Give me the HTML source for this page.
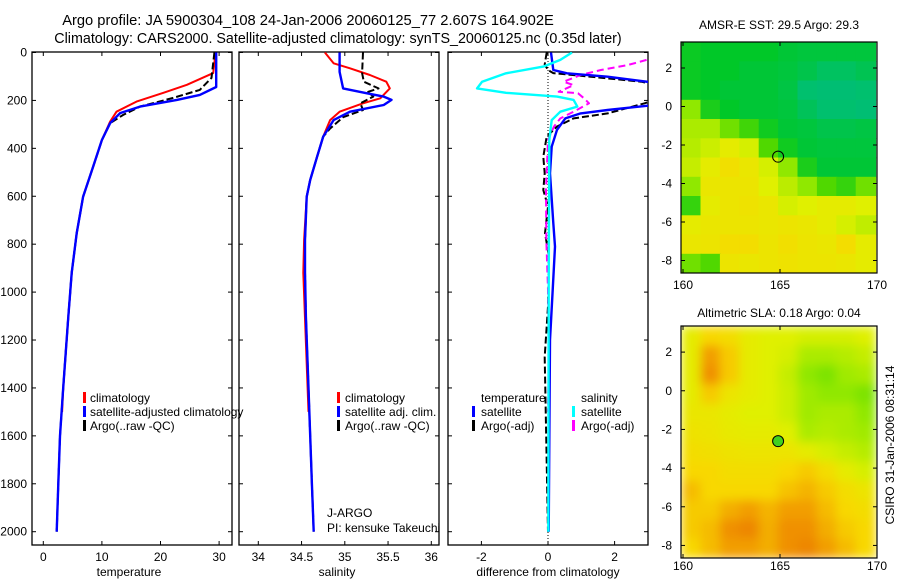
<!DOCTYPE html>
<html><head><meta charset="utf-8"><style>
body{margin:0;background:#fff;}
svg{display:block;font-family:"Liberation Sans",sans-serif;}
text{fill:#000;}
</style></head><body>
<svg id="fig" width="900" height="580" viewBox="0 0 900 580">
<defs>
<clipPath id="c1"><rect x="32" y="52" width="200" height="493"/></clipPath>
<clipPath id="c2"><rect x="239" y="52" width="200" height="493"/></clipPath>
<clipPath id="c3"><rect x="448" y="52" width="200" height="493"/></clipPath>
<clipPath id="cm1"><rect x="681" y="42" width="196" height="231"/></clipPath>
<clipPath id="cm2"><rect x="681" y="326" width="196" height="232"/></clipPath>
<filter id="blur" x="0" y="0" width="1" height="1"><feGaussianBlur stdDeviation="5"/></filter>
</defs>
<text x="308" y="25" font-size="14.7" text-anchor="middle">Argo profile: JA 5900304_108 24-Jan-2006 20060125_77 2.607S 164.902E</text>
<text x="338" y="43" font-size="14.3" text-anchor="middle">Climatology: CARS2000. Satellite-adjusted climatology: synTS_20060125.nc (0.35d later)</text>
<g id="plots"></g>
</svg>
<script>
// ---------- profile data (depth dbar, value) ----------
const tDepth=[0,144,177,198,226,253,295,365,477,602,754,920,1103,1400,1600,1800,2000];
const tSat=[29.5,29.5,26.7,22.8,16.5,13.1,11.4,10.0,8.5,6.8,5.7,4.85,4.27,3.4,2.85,2.56,2.29];
const tClimDepth=[0,86,135,168,205,247,289,365,477,602,754,920,1103,1400,1500];
const tClim=[29.4,29.0,24.5,20.5,15.9,12.5,11.4,10.0,8.5,6.8,5.7,4.85,4.27,3.4,3.2];
const tArgoDepth=[0,106,156,190,226,261,295,365,477,602,754,920,1103,1400,1600,1800,2000];
const tArgo=[29.2,28.7,26.7,22.1,16.5,13.6,11.4,10.0,8.5,6.8,5.7,4.85,4.27,3.4,2.85,2.56,2.29];

const sClimDepth=[0,45,66,94,122,150,191,212,247,282,351,435,532,602,782,920,1400,1500];
const sClim=[34.77,34.87,35.06,35.29,35.48,35.52,35.41,35.21,34.94,34.83,34.75,34.68,34.60,34.56,34.53,34.52,34.57,34.58];
const sSatDepth=[0,81,150,170,184,198,219,247,282,351,435,532,602,782,920,1103,1400,1600,1800,2000];
const sSat=[34.94,34.94,34.98,35.25,35.45,35.54,35.45,35.06,34.87,34.75,34.68,34.60,34.56,34.54,34.54,34.55,34.58,34.60,34.62,34.64];
const sArgoDepth=[0,86,122,150,164,184,212,240,270,317,351,435,532,602,782,920,1103,1400,1600,1800,2000];
const sArgo=[35.21,35.20,35.22,35.39,35.27,35.33,35.18,35.21,34.98,34.83,34.75,34.68,34.60,34.56,34.54,34.54,34.55,34.58,34.60,34.62,34.64];

const dTSatDepth=[0,73,87,101,126,160,219,240,254,275,323,393,504,712,810,991,1200,2000];
const dTSat=[0.09,0.16,0.57,1.79,3.2,4.5,3.2,1.79,0.98,0.52,0.27,0.11,0.06,0.16,0.21,0.14,0.06,0.02];
const dTArgoDepth=[0,50,73,86,101,122,160,212,254,275,309,351,435,504,574,643,754,851,1060,1270,2000];
const dTArgo=[-0.04,-0.1,0,0.16,1.28,2.8,4.0,2.9,1.79,0.77,0.27,-0.04,-0.14,-0.1,-0.14,0,-0.09,0.03,0,-0.1,0];
const dSSatDepth=[0,31,59,87,122,150,168,184,198,226,247,282,365,1000,2000];
const dSSat=[0.72,0.37,-0.14,-1.26,-1.98,-2.13,-1.26,0.27,0.77,0.88,0.37,0.11,0.04,0.02,0.01];
const dSArgoDepth=[31,52,73,94,122,136,164,170,191,212,247,275,309,365,574,782,990,1240,1500];
const dSArgo=[2.96,2.4,1.59,0.98,0.47,0.77,0.32,0.9,1.08,1.23,0.77,0.37,0.18,0,-0.06,-0.05,0,0.03,0];

// ---------- map data (normalized colour index, 1-deg cells, rows from 3.35N) ----------
const mapLon=[160,161,162,163,164,165,166,167,168,169];
const mapLatTop=[3.35,2.35,1.35,0.35,-0.65,-1.65,-2.65,-3.65,-4.65,-5.65,-6.65,-7.65];
const sstGrid=[
[0.32,0.3,0.3,0.3,0.3,0.28,0.27,0.27,0.27,0.27],
[0.32,0.3,0.3,0.28,0.28,0.27,0.25,0.22,0.22,0.24],
[0.32,0.3,0.28,0.28,0.28,0.26,0.2,0.18,0.18,0.2],
[0.55,0.35,0.3,0.28,0.28,0.27,0.23,0.2,0.2,0.18],
[0.6,0.6,0.5,0.42,0.33,0.28,0.27,0.25,0.25,0.26],
[0.62,0.66,0.72,0.68,0.45,0.33,0.28,0.27,0.27,0.27],
[0.65,0.72,0.77,0.74,0.68,0.55,0.35,0.28,0.28,0.28],
[0.55,0.74,0.75,0.75,0.7,0.63,0.55,0.45,0.4,0.5],
[0.4,0.72,0.75,0.76,0.74,0.68,0.7,0.72,0.72,0.7],
[0.72,0.74,0.75,0.75,0.74,0.75,0.74,0.72,0.68,0.64],
[0.74,0.75,0.78,0.78,0.75,0.77,0.75,0.74,0.78,0.72],
[0.5,0.45,0.75,0.74,0.75,0.76,0.75,0.75,0.74,0.72]];
const slaGrid=[
[0.72,0.8,0.78,0.72,0.7,0.7,0.68,0.68,0.68,0.7],
[0.72,0.88,0.82,0.72,0.7,0.68,0.6,0.6,0.62,0.65],
[0.72,0.9,0.82,0.72,0.7,0.65,0.55,0.52,0.58,0.6],
[0.72,0.82,0.75,0.72,0.7,0.66,0.58,0.55,0.55,0.52],
[0.74,0.74,0.72,0.7,0.7,0.66,0.58,0.6,0.6,0.55],
[0.76,0.75,0.73,0.72,0.72,0.7,0.6,0.62,0.6,0.58],
[0.78,0.77,0.76,0.75,0.75,0.75,0.72,0.68,0.65,0.62],
[0.8,0.8,0.78,0.78,0.78,0.8,0.82,0.78,0.72,0.68],
[0.84,0.8,0.8,0.8,0.8,0.83,0.85,0.82,0.78,0.75],
[0.82,0.82,0.86,0.88,0.85,0.88,0.88,0.84,0.8,0.78],
[0.82,0.84,0.9,0.92,0.86,0.9,0.9,0.86,0.82,0.8],
[0.8,0.84,0.88,0.88,0.86,0.9,0.92,0.88,0.84,0.8]];
const floatLon=164.902, floatLat=-2.607;

const NS='http://www.w3.org/2000/svg';
const root=document.getElementById('plots');
function mk(tag,attrs,parent){const e=document.createElementNS(NS,tag);for(const k in attrs)e.setAttribute(k,attrs[k]);(parent||root).appendChild(e);return e;}

const yD=d=>52.5+d*0.2396;
const xT=v=>43.3+v*5.86;
const xS=v=>258.3+(v-34)*86.5;
const xDf=v=>548+v*33.3;

function panel(x0,name){
  const r=mk('rect',{x:x0,y:52,width:200,height:493,fill:'none',stroke:'#000','stroke-width':1.3});
  
  
  for(let d=0;d<=2000;d+=200){
    mk('line',{x1:x0,x2:x0+4,y1:yD(d),y2:yD(d),stroke:'#000'});
    mk('line',{x1:x0+200,x2:x0+196,y1:yD(d),y2:yD(d),stroke:'#000'});
  }
}
function xticks(vals,fx,labels){
  vals.forEach((v,i)=>{const x=fx(v);
    mk('line',{x1:x,x2:x,y1:545,y2:541,stroke:'#000'});
    mk('line',{x1:x,x2:x,y1:52,y2:56,stroke:'#000'});
    const t=mk('text',{x:x,y:561,'font-size':12,'text-anchor':'middle'});t.textContent=labels[i];
    
    
  });
}
function line(ds,vs,fx,color,clip,dash,name,w){
  const p=ds.map((d,i)=>(i?'L':'M')+fx(vs[i]).toFixed(1)+','+yD(d).toFixed(1)).join('');
  const a={d:p,fill:'none',stroke:color,'stroke-width':w||2,'clip-path':'url(#'+clip+')','stroke-linejoin':'round'};
  if(dash)a['stroke-dasharray']=dash;
  const e=mk('path',a);
  
  
}
function txt(x,y,s,name,size,anchor){const t=mk('text',{x:x,y:y,'font-size':size||12,'text-anchor':anchor||'start'});t.textContent=s;
  
  return t;}
function legMark(x,y,c){mk('rect',{x:x,y:y-10,width:3,height:11,fill:c});}

for(let d=0;d<=2000;d+=200){txt(27,yD(d)+4,String(d),'y-tick-label',12,'end');}

panel(32,'temperature-panel');
xticks([0,10,20,30],xT,['0','10','20','30']);
line(tClimDepth,tClim,xT,'#f00','c1',null,'temperature-climatology-line');
line(tArgoDepth,tArgo,xT,'#000','c1','7,3','temperature-argo-line');
line(tDepth,tSat,xT,'#00f','c1',null,'temperature-satellite-line',2.4);
txt(129,576,'temperature','x-axis-title-temperature',12,'middle');
legMark(83,402,'#f00');txt(90,402,'climatology','legend-climatology');
legMark(83,416,'#00f');txt(90,416,'satellite-adjusted climatology','legend-satellite-adjusted');
legMark(83,430,'#000');txt(90,430,'Argo(..raw -QC)','legend-argo');

panel(239,'salinity-panel');
xticks([34,34.5,35,35.5,36],xS,['34','34.5','35','35.5','36']);
line(sClimDepth,sClim,xS,'#f00','c2',null,'salinity-climatology-line');
line(sArgoDepth,sArgo,xS,'#000','c2','7,3','salinity-argo-line');
line(sSatDepth,sSat,xS,'#00f','c2',null,'salinity-satellite-line',2.4);
txt(337,576,'salinity','x-axis-title-salinity',12,'middle');
legMark(337,402,'#f00');txt(345,402,'climatology','legend-sal-climatology');
legMark(337,416,'#00f');txt(345,416,'satellite adj. clim.','legend-sal-satellite');
legMark(337,430,'#000');txt(345,430,'Argo(..raw -QC)','legend-sal-argo');
txt(327,517,'J-ARGO','agency-label');
txt(327,532,'PI: kensuke Takeuchi','pi-label');

panel(448,'difference-panel');
xticks([-2,0,2],xDf,['-2','0','2']);
mk('line',{x1:548,x2:548,y1:52,y2:545,stroke:'#000','stroke-dasharray':'1,2'});
line(dTArgoDepth,dTArgo,xDf,'#000','c3','7,3','diff-temp-argo-line');
line(dSArgoDepth,dSArgo,xDf,'#f0f','c3','7,4','diff-sal-argo-line');
line(dTSatDepth,dTSat,xDf,'#00f','c3',null,'diff-temp-satellite-line',2.4);
line(dSSatDepth,dSSat,xDf,'#0ff','c3',null,'diff-sal-satellite-line',2.4);
txt(548,576,'difference from climatology','x-axis-title-difference',12,'middle');
txt(481,402,'temperature','legend-temperature-header');
txt(581,402,'salinity','legend-salinity-header');
legMark(472,416,'#00f');txt(481,416,'satellite','legend-temp-satellite');
legMark(472,430,'#000');txt(481,430,'Argo(-adj)','legend-temp-argo');
legMark(572,416,'#0ff');txt(581,416,'satellite','legend-sal-sat');
legMark(572,430,'#f0f');txt(581,430,'Argo(-adj)','legend-sal-argo-diff');

const stops=[[0,[0,176,160]],[0.2,[0,192,110]],[0.3,[0,200,40]],[0.45,[80,216,0]],[0.55,[144,232,0]],[0.7,[224,240,0]],[0.8,[248,216,0]],[0.9,[240,144,0]],[1,[224,96,0]]];
function cmap(v){for(let i=1;i<stops.length;i++){if(v<=stops[i][0]){const a=stops[i-1],b=stops[i],t=(v-a[0])/(b[0]-a[0]);
  return 'rgb('+a[1].map((c,k)=>Math.round(c+(b[1][k]-c)*t)).join(',')+')';}}return 'rgb(224,96,0)';}
function mapPanel(top,bottom,grid,clip,name,blur,title,labY,titleY){
  const xL=lon=>683+(lon-160)*19.4;
  const lat2=(bottom-top)/(3.35+8.65);
  const yL=lat=>top+(3.35-lat)*lat2;
  const g=mk('g',{'clip-path':'url(#'+clip+')'});
  const gi=mk('g',blur?{filter:'url(#blur)'}:{},g);
  grid.forEach((row,r)=>row.forEach((v,c)=>{
    const x=xL(mapLon[c]-0.1),y=yL(mapLatTop[r]);
    const cell=mk('rect',{x:x.toFixed(1),y:y.toFixed(1),width:20.5,height:(lat2+0.6).toFixed(1),fill:cmap(v)},gi);
    
    
  }));
  const fr=mk('rect',{x:681,y:top,width:196,height:bottom-top,fill:'none',stroke:'#000','stroke-width':1.2});
  
  
  [2,0,-2,-4,-6,-8].forEach(l=>{const y=yL(l);
    mk('line',{x1:681,x2:685,y1:y,y2:y,stroke:'#000'});mk('line',{x1:877,x2:873,y1:y,y2:y,stroke:'#000'});
    txt(672,y+4,String(l),'map-y-tick-label',12,'end');});
  [160,165,170].forEach(l=>{const x=xL(l);
    mk('line',{x1:x,x2:x,y1:bottom,y2:bottom-4,stroke:'#000'});mk('line',{x1:x,x2:x,y1:top,y2:top+4,stroke:'#000'});
    txt(x,labY,String(l),'map-x-tick-label',12,'middle');});
  txt(779,titleY,title,'map-title',12,'middle');
  const c=mk('circle',{cx:xL(floatLon),cy:yL(floatLat),r:5.5,fill:blur?'#40d020':'none',stroke:'#000','stroke-width':1});
  
  
}
mapPanel(42,273,sstGrid,'cm1','sst-map',false,'AMSR-E SST: 29.5 Argo: 29.3',289,29);
mapPanel(326,558,slaGrid,'cm2','sla-map',true,'Altimetric SLA: 0.18 Argo: 0.04',570,317);
const rt=txt(0,0,'CSIRO 31-Jan-2006 08:31:14','timestamp-label',12,'middle');
rt.setAttribute('transform','translate(894,445) rotate(-90)');
</script>
</body></html>
